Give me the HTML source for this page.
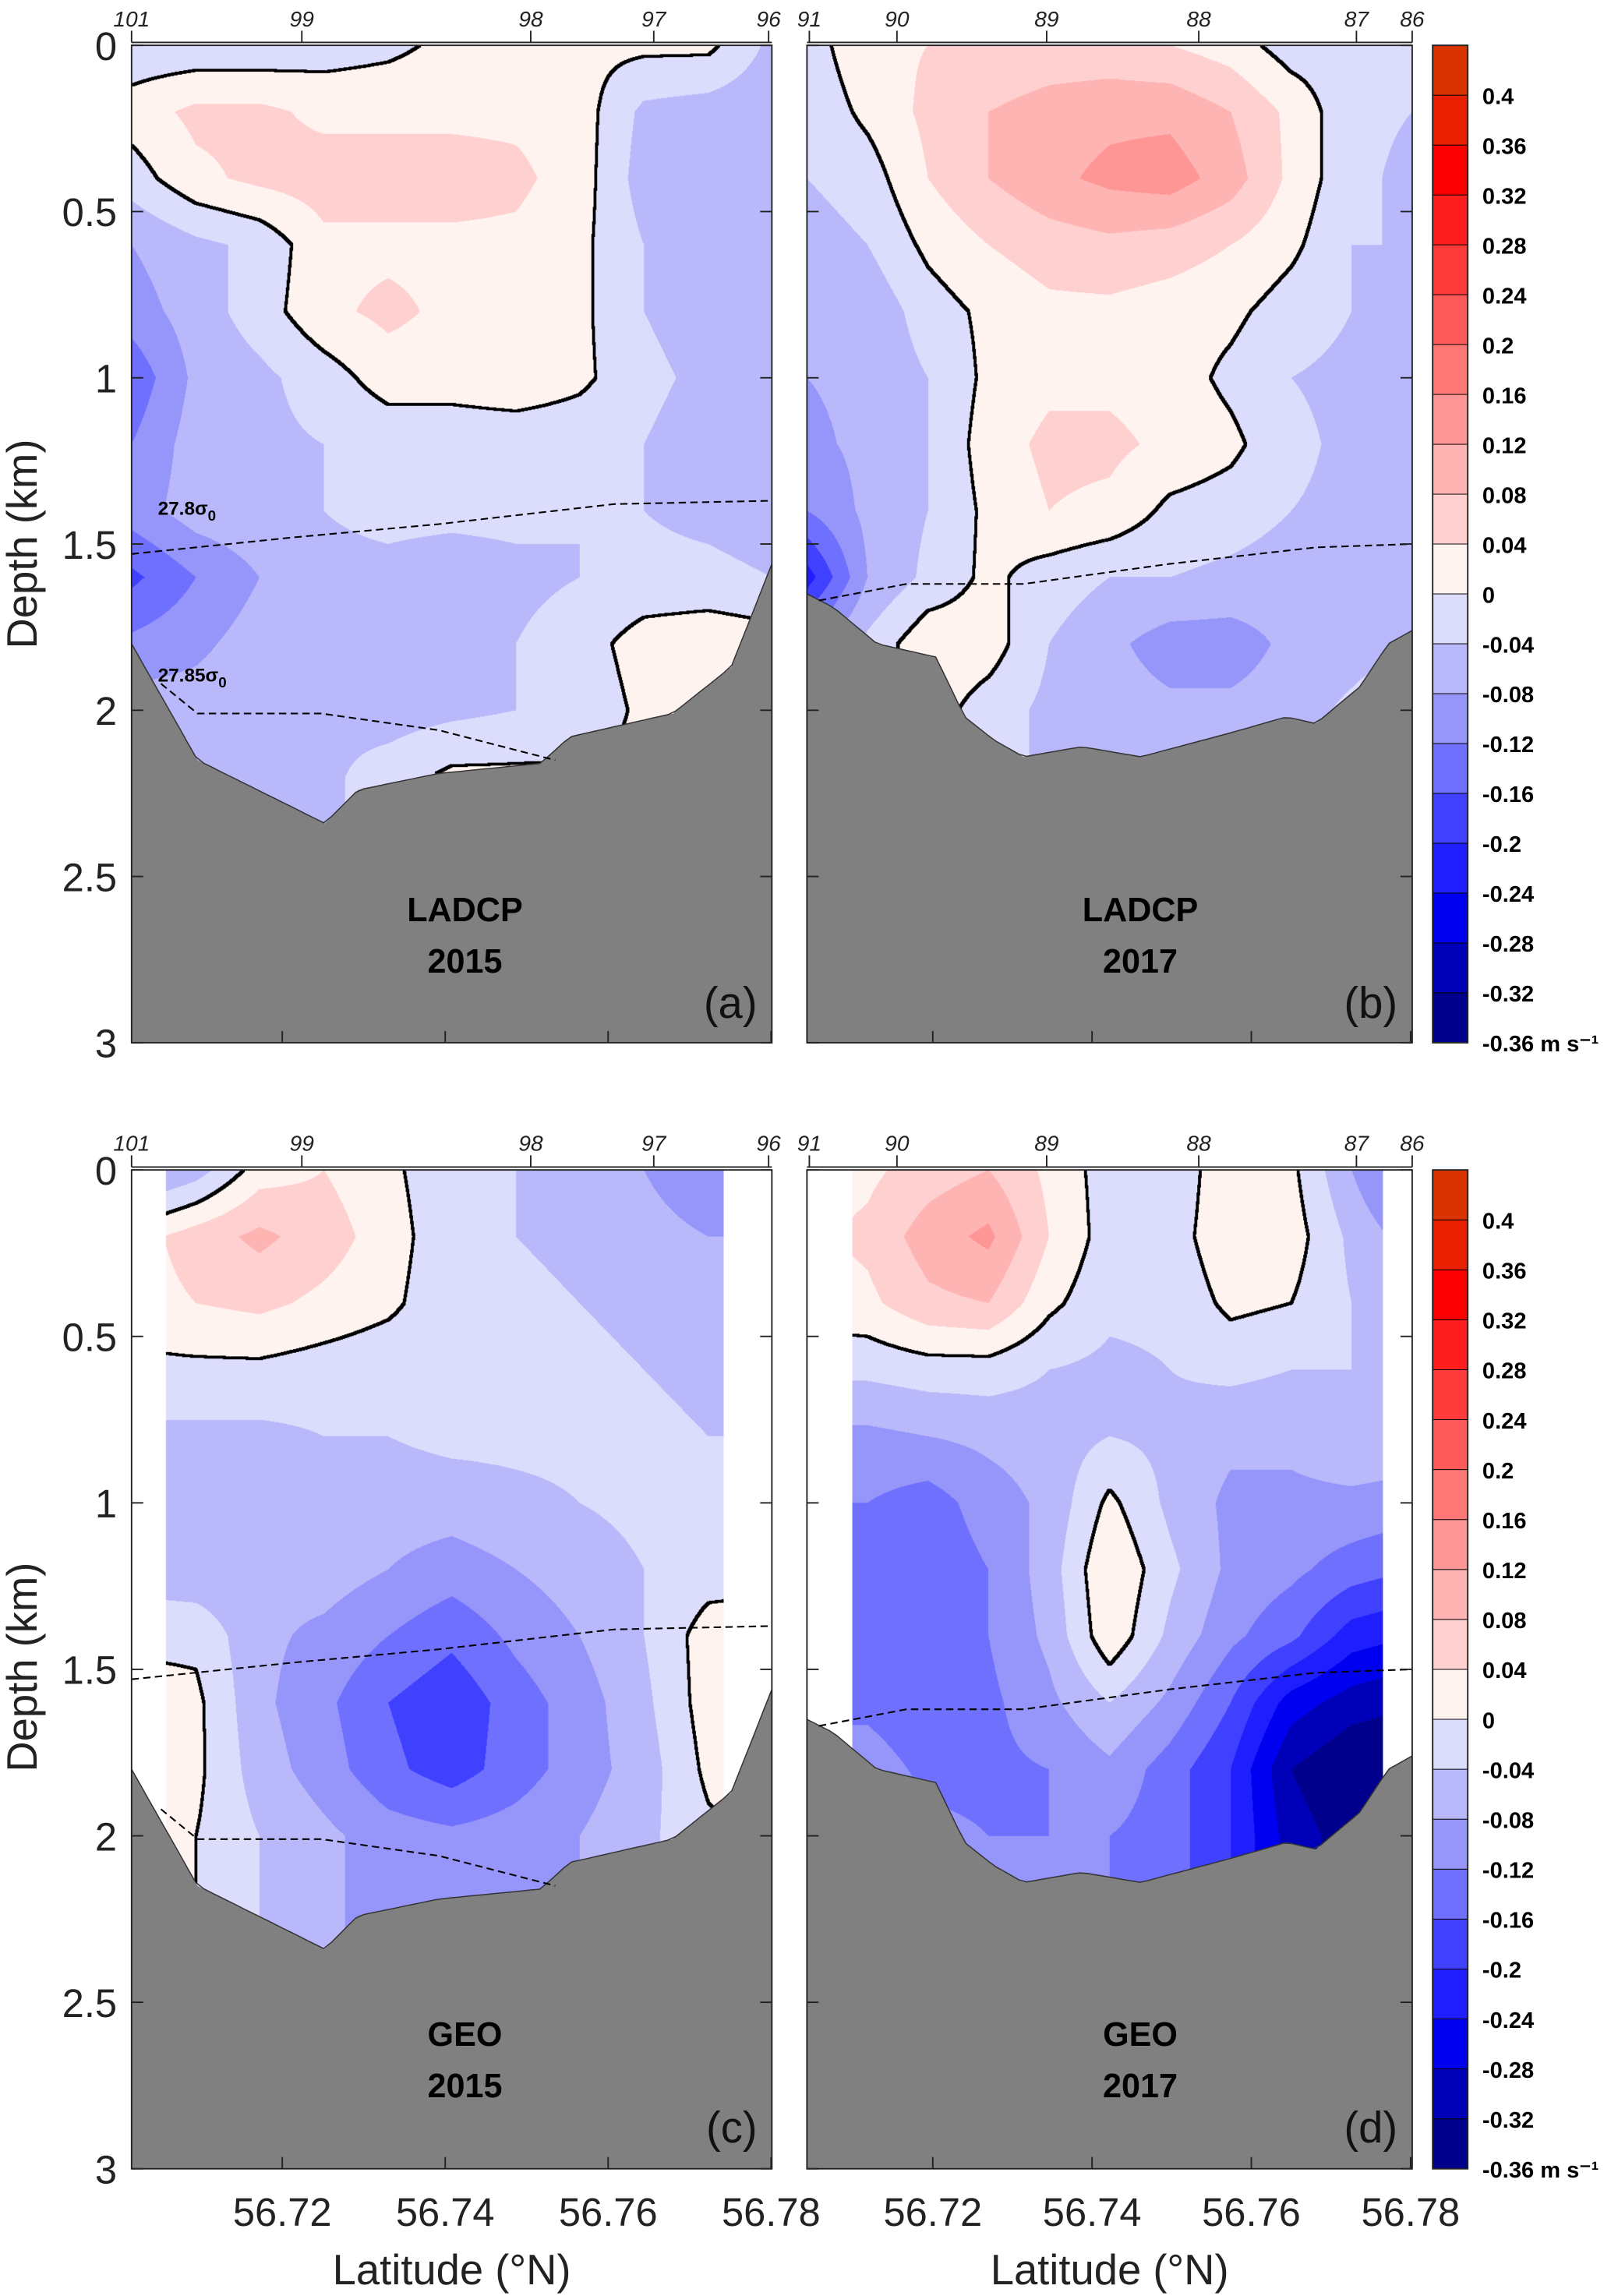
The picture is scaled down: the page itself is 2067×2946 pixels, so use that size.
<!DOCTYPE html>
<html><head><meta charset="utf-8">
<style>
html,body{margin:0;padding:0;background:#fff;width:2067px;height:2946px;overflow:hidden;}
#wrap{position:absolute;left:0;top:0;width:1102px;height:1570px;transform-origin:0 0;transform:scale(1.87568,1.87643);}
canvas{position:absolute;}
svg{position:absolute;left:0;top:0;}
text{font-family:"Liberation Sans",Arial,sans-serif;}
</style></head>
<body>
<div id="wrap">
<canvas id="ca"></canvas>
<canvas id="cb"></canvas>
<canvas id="cc"></canvas>
<canvas id="cd"></canvas>
<svg id="ov" width="1102" height="1570" viewBox="0 0 1102 1570"></svg>
</div>
<script>
// ---- data ----
const depthRows = [0,0.2,0.4,0.6,0.8,1.0,1.2,1.4,1.6,1.8,2.0,2.2,2.4];
const latColsA = [56.7015,56.7094,56.7172,56.7251,56.7330,56.7408,56.7487,56.7565,56.7644,56.7723,56.7801];
const latColsB = [56.7042,56.7118,56.7194,56.7270,56.7346,56.7422,56.7498,56.7574,56.7650,56.7726,56.7802];
const velA = [
[-0.03,-0.03,-0.03,-0.02,-0.01,0.01,0.01,0.01,0.01,0.01,-0.05],
[0.02,0.05,0.05,0.03,0.03,0.03,0.03,0.02,-0.05,-0.06,-0.07],
[-0.02,0.03,0.05,0.06,0.06,0.06,0.05,0.02,-0.06,-0.07,-0.08],
[-0.08,-0.05,-0.03,0.03,0.03,0.03,0.03,0.01,-0.04,-0.07,-0.07],
[-0.10,-0.06,-0.02,0.03,0.05,0.03,0.02,0.01,-0.04,-0.06,-0.07],
[-0.15,-0.07,-0.05,-0.02,0.02,0.02,0.03,0.01,-0.03,-0.05,-0.07],
[-0.12,-0.06,-0.05,-0.04,-0.03,-0.03,-0.03,-0.03,-0.04,-0.06,-0.07],
[-0.10,-0.06,-0.05,-0.04,-0.03,-0.03,-0.03,-0.04,-0.04,-0.05,-0.06],
[-0.17,-0.12,-0.08,-0.05,-0.05,-0.06,-0.05,-0.04,-0.03,-0.03,-0.04],
[-0.11,-0.09,-0.06,-0.06,-0.05,-0.05,-0.04,-0.02,0.02,0.03,0.02],
[-0.06,-0.06,-0.05,-0.05,-0.06,-0.05,-0.04,-0.03,0.01,0.02,0.02],
[-0.04,-0.04,-0.05,-0.05,-0.02,0.01,0.01,0.01,0.01,0.01,0.01],
[-0.04,-0.04,-0.05,-0.05,-0.02,0.01,0.01,0.01,0.01,0.01,0.01]];
const velB = [
[-0.02,0.03,0.04,0.04,0.05,0.05,0.04,0.02,-0.02,-0.02,-0.03],
[-0.03,0.01,0.05,0.08,0.10,0.11,0.11,0.08,0.03,-0.03,-0.04],
[-0.04,-0.02,0.04,0.08,0.11,0.13,0.14,0.10,0.03,-0.03,-0.05],
[-0.06,-0.04,0.01,0.04,0.06,0.07,0.06,0.04,0.01,-0.04,-0.04],
[-0.08,-0.07,-0.02,0.01,0.03,0.03,0.02,0.01,-0.02,-0.04,-0.05],
[-0.08,-0.07,-0.04,0.01,0.03,0.03,0.02,-0.01,-0.04,-0.05,-0.06],
[-0.09,-0.07,-0.04,0.02,0.05,0.05,0.03,0.01,-0.03,-0.05,-0.05],
[-0.12,-0.07,-0.04,0.01,0.04,0.03,-0.01,-0.02,-0.04,-0.05,-0.05],
[-0.22,-0.08,-0.03,0.01,-0.02,-0.04,-0.04,-0.05,-0.06,-0.06,-0.06],
[-0.10,-0.03,0.03,0.02,-0.04,-0.07,-0.10,-0.10,-0.07,-0.06,-0.05],
[-0.05,-0.03,0.02,-0.02,-0.05,-0.06,-0.07,-0.07,-0.06,-0.03,0.01],
[-0.05,-0.03,0.02,-0.02,-0.05,-0.06,-0.07,-0.07,-0.06,-0.03,0.01],
[-0.05,-0.03,0.02,-0.02,-0.05,-0.06,-0.07,-0.07,-0.06,-0.03,0.01]];
const velC = [
[-0.10,-0.06,0.02,0.04,0.01,-0.03,-0.04,-0.05,-0.08,-0.10,-0.10],
[0.02,0.06,0.09,0.06,0.02,-0.03,-0.04,-0.05,-0.07,-0.08,-0.08],
[0.02,0.04,0.05,0.03,0.01,-0.03,-0.03,-0.04,-0.05,-0.06,-0.06],
[-0.01,-0.01,-0.01,-0.02,-0.03,-0.03,-0.03,-0.03,-0.04,-0.05,-0.05],
[-0.05,-0.05,-0.05,-0.04,-0.04,-0.03,-0.03,-0.03,-0.03,-0.04,-0.04],
[-0.07,-0.07,-0.06,-0.05,-0.06,-0.06,-0.05,-0.04,-0.03,-0.03,-0.03],
[-0.06,-0.07,-0.07,-0.06,-0.08,-0.10,-0.08,-0.06,-0.04,-0.02,-0.02],
[-0.01,-0.01,-0.07,-0.09,-0.12,-0.15,-0.11,-0.08,-0.04,0.02,0.03],
[0.02,0.01,-0.07,-0.11,-0.16,-0.19,-0.14,-0.10,-0.05,0.02,0.04],
[0.03,0.01,-0.06,-0.10,-0.15,-0.18,-0.14,-0.10,-0.06,0.01,0.03],
[0.03,0.00,-0.04,-0.07,-0.10,-0.11,-0.10,-0.08,-0.05,-0.01,0.01],
[0.03,0.00,-0.04,-0.07,-0.10,-0.11,-0.10,-0.08,-0.05,-0.01,0.01],
[0.03,0.00,-0.04,-0.07,-0.10,-0.11,-0.10,-0.08,-0.05,-0.01,0.01]];
const velD = [
[0.02,0.03,0.06,0.08,0.03,-0.02,-0.03,0.03,0.01,-0.08,-0.16],
[0.03,0.05,0.10,0.13,0.04,-0.02,-0.02,0.03,0.02,-0.05,-0.10],
[0.02,0.03,0.07,0.08,0.01,-0.03,-0.03,0.01,0.00,-0.04,-0.06],
[-0.03,-0.03,-0.02,-0.02,-0.04,-0.05,-0.04,-0.03,-0.04,-0.04,-0.04],
[-0.09,-0.09,-0.08,-0.07,-0.06,-0.04,-0.05,-0.07,-0.07,-0.05,-0.05],
[-0.12,-0.12,-0.14,-0.10,-0.07,0.01,-0.05,-0.09,-0.09,-0.09,-0.10],
[-0.13,-0.13,-0.15,-0.12,-0.06,0.04,-0.03,-0.09,-0.11,-0.14,-0.16],
[-0.14,-0.14,-0.15,-0.12,-0.07,0.03,-0.05,-0.11,-0.15,-0.22,-0.24],
[-0.13,-0.13,-0.15,-0.13,-0.09,-0.04,-0.09,-0.16,-0.26,-0.30,-0.32],
[-0.10,-0.10,-0.13,-0.13,-0.12,-0.09,-0.14,-0.20,-0.32,-0.36,-0.36],
[-0.08,-0.08,-0.11,-0.12,-0.12,-0.12,-0.14,-0.20,-0.30,-0.34,-0.34],
[-0.08,-0.08,-0.11,-0.12,-0.12,-0.12,-0.14,-0.20,-0.30,-0.34,-0.34],
[-0.08,-0.08,-0.11,-0.12,-0.12,-0.12,-0.14,-0.20,-0.30,-0.34,-0.34]];
const bathyLatA = [56.7015,56.7096,56.7252,56.7293,56.7392,56.7517,56.7553,56.7679,56.7751,56.7801];
const bathyDepA = [1.80,2.15,2.34,2.24,2.19,2.16,2.08,2.01,1.87,1.56];
const bathyLatB = [56.7042,56.7075,56.7130,56.7204,56.7240,56.7277,56.7314,56.7387,56.7461,56.7571,56.7644,56.7681,56.7736,56.7772,56.7802];
const bathyDepB = [1.65,1.69,1.80,1.84,2.02,2.09,2.14,2.11,2.14,2.07,2.02,2.04,1.93,1.80,1.76];
const iso278LatA = [56.7015,56.7213,56.7392,56.7607,56.7801];
const iso278DepA = [1.53,1.48,1.44,1.38,1.37];
const iso2785LatA = [56.7051,56.7096,56.7248,56.7392,56.7535];
const iso2785DepA = [1.92,2.01,2.01,2.06,2.15];
const isoLatB = [56.7057,56.7167,56.7314,56.7497,56.7681,56.7802];
const isoDepB = [1.67,1.62,1.62,1.56,1.51,1.50];
const levels = [-0.36,-0.32,-0.28,-0.24,-0.2,-0.16,-0.12,-0.08,-0.04,0,0.04,0.08,0.12,0.16,0.2,0.24,0.28,0.32,0.36,0.4,0.44];
const levelLabels = ["-0.36 m s⁻¹","-0.32","-0.28","-0.24","-0.2","-0.16","-0.12","-0.08","-0.04","0","0.04","0.08","0.12","0.16","0.2","0.24","0.28","0.32","0.36","0.4"];
const colors = ["#00008c","#0000b8","#0000f0","#1e1eff","#4040ff","#7070ff","#9696fa","#b8b8fa","#dcdcfc","#fff3f0","#ffd0d0","#ffb4b4","#ff9696","#ff7878","#ff5a5a","#ff3a3a","#ff1e1e","#fa0000","#e82000","#d93300"];
const depthTicks = [0,0.5,1,1.5,2,2.5,3];
const latTicks = [56.72,56.74,56.76,56.78];
const stationsA = ["101","99","98","97","96"];
const stationLatA = [56.7015,56.7224,56.7505,56.7656,56.7797];
const stationsB = ["91","90","89","88","87","86"];
const stationLatB = [56.7045,56.7155,56.7343,56.7534,56.7732,56.7802];

// ---- panels ----
const panels = [
 {id:'ca',name:'a',x:90,y:31,w:438,h:682,lat:[56.7015,56.7801],cols:latColsA,v:velA,bl:bathyLatA,bd:bathyDepA,mask:null,iso:[[iso278LatA,iso278DepA],[iso2785LatA,iso2785DepA]],t1:'LADCP',t2:'2015',st:stationsA,sl:stationLatA},
 {id:'cb',name:'b',x:552,y:31,w:414,h:682,lat:[56.7042,56.7802],cols:latColsB,v:velB,bl:bathyLatB,bd:bathyDepB,mask:null,iso:[[isoLatB,isoDepB]],t1:'LADCP',t2:'2017',st:stationsB,sl:stationLatB},
 {id:'cc',name:'c',x:90,y:800,w:438,h:683,lat:[56.7015,56.7801],cols:latColsA,v:velC,bl:bathyLatA,bd:bathyDepA,mask:[56.7057,56.7742],iso:[[iso278LatA,iso278DepA],[iso2785LatA,iso2785DepA]],t1:'GEO',t2:'2015',st:stationsA,sl:stationLatA},
 {id:'cd',name:'d',x:552,y:800,w:414,h:683,lat:[56.7042,56.7802],cols:latColsB,v:velD,bl:bathyLatB,bd:bathyDepB,mask:[56.7099,56.7765],iso:[[isoLatB,isoDepB]],t1:'GEO',t2:'2017',st:stationsB,sl:stationLatB}
];
function interp1(xs,ys,x){
 if(x<=xs[0])return ys[0]; if(x>=xs[xs.length-1])return ys[ys.length-1];
 for(let i=0;i<xs.length-1;i++){if(x<=xs[i+1]){const t=(x-xs[i])/(xs[i+1]-xs[i]);return ys[i]+t*(ys[i+1]-ys[i]);}}
}
function field(p,lat,d){
 const c=p.cols; let i=0; while(i<c.length-2&&lat>c[i+1])i++;
 let tx=(lat-c[i])/(c[i+1]-c[i]); tx=Math.max(0,Math.min(1,tx));
 let j=Math.min(Math.floor(d/0.2),depthRows.length-2); let ty=(d-depthRows[j])/0.2; ty=Math.max(0,Math.min(1,ty));
 const v=p.v; return (v[j][i]*(1-tx)+v[j][i+1]*tx)*(1-ty)+(v[j+1][i]*(1-tx)+v[j+1][i+1]*tx)*ty;
}
function hex(c){return [parseInt(c.substr(1,2),16),parseInt(c.substr(3,2),16),parseInt(c.substr(5,2),16)];}
const rgb=colors.map(hex);
const S=2;
panels.forEach(p=>{
 const cv=document.getElementById(p.id);
 cv.style.left=p.x+'px';cv.style.top=p.y+'px';cv.style.width=p.w+'px';cv.style.height=p.h+'px';
 const W=p.w*S,H=p.h*S; cv.width=W;cv.height=H;
 const ctx=cv.getContext('2d'); const img=ctx.createImageData(W,H); const dt=img.data;
 const kind=new Int8Array(W*H);
 const vals=new Float32Array(W*H);
 for(let i=0;i<W;i++){
  const lat=p.lat[0]+(i+0.5)/W*(p.lat[1]-p.lat[0]);
  const bd=interp1(p.bl,p.bd,lat);
  const inMask=!p.mask||(lat>=p.mask[0]&&lat<=p.mask[1]);
  for(let j=0;j<H;j++){
   const d=(j+0.5)/H*3; const k=j*W+i;
   if(d>bd){kind[k]=2;continue;}
   if(!inMask){kind[k]=0;continue;}
   const v=field(p,lat,d); vals[k]=v; kind[k]=v>=0?1:-1;
  }
 }
 for(let k=0;k<W*H;k++){
  let c;
  if(kind[k]===2)c=[128,128,128];else if(kind[k]===0)c=[255,255,255];
  else{let b=Math.floor((vals[k]+0.36)/0.04);b=Math.max(0,Math.min(19,b));c=rgb[b];}
  dt[k*4]=c[0];dt[k*4+1]=c[1];dt[k*4+2]=c[2];dt[k*4+3]=255;
 }
 const r=2;
 for(let j=0;j<H;j++)for(let i=0;i<W;i++){
  const k=j*W+i; if(kind[k]!==1&&kind[k]!==-1)continue;
  const opp=-kind[k];
  let edge=false;
  for(let dy=-r;dy<=r&&!edge;dy++)for(let dx=-r;dx<=r;dx++){
   const ii=i+dx,jj=j+dy; if(ii<0||jj<0||ii>=W||jj>=H)continue;
   if(kind[jj*W+ii]===opp){edge=true;break;}
  }
  if(edge){dt[k*4]=0;dt[k*4+1]=0;dt[k*4+2]=0;}
 }
 ctx.putImageData(img,0,0);
});

// ---- overlay ----
const NS='http://www.w3.org/2000/svg';
const ov=document.getElementById('ov');
function el(tag,attrs,parent){const e=document.createElementNS(NS,tag);for(const a in attrs)e.setAttribute(a,attrs[a]);(parent||ov).appendChild(e);return e;}
function txt(s,attrs){const e=el('text',attrs);e.textContent=s;return e;}
panels.forEach(p=>{
 const xs=lat=>p.x+(lat-p.lat[0])/(p.lat[1]-p.lat[0])*p.w;
 const ys=d=>p.y+d/3*p.h;
 const g=el('g',{});
 
 
 let pts=''; const n=80;
 for(let k=0;k<=n;k++){const lat=p.lat[0]+k/n*(p.lat[1]-p.lat[0]);pts+=xs(lat).toFixed(1)+','+ys(interp1(p.bl,p.bd,lat)).toFixed(1)+' ';}
 const bo=el('polyline',{points:pts,fill:'none',stroke:'#333',"stroke-width":0.8},g);
 
 
 p.iso.forEach((iso,ix)=>{
  const pp=iso[0].map((la,k)=>xs(la).toFixed(1)+','+ys(iso[1][k]).toFixed(1)).join(' ');
  const l=el('polyline',{points:pp,fill:'none',stroke:'#000',"stroke-width":1.1,"stroke-dasharray":'5,3'},g);
  
  
 });
 el('rect',{x:p.x,y:p.y,width:p.w,height:p.h,fill:'none',stroke:'#222',"stroke-width":1},g);
 depthTicks.forEach(d=>{
  el('line',{x1:p.x,x2:p.x+8,y1:ys(d),y2:ys(d),stroke:'#222'},g);
  el('line',{x1:p.x+p.w-8,x2:p.x+p.w,y1:ys(d),y2:ys(d),stroke:'#222'},g);
  if(p.name==='a'||p.name==='c'){
   const t=txt(String(d),{x:80,y:ys(d)+10,"font-size":27,"text-anchor":'end',fill:'#222'});
   
   
  }
 });
 latTicks.forEach(la=>{
  el('line',{x1:xs(la),x2:xs(la),y1:p.y+p.h,y2:p.y+p.h-8,stroke:'#222'},g);
  if(p.name==='c'||p.name==='d'){
   const t=txt(la.toFixed(2),{x:xs(la),y:1522,"font-size":27,"text-anchor":'middle',fill:'#222'});
   
   
  }
 });
 p.st.forEach((s,k)=>{
  const x=xs(p.sl[k]);
  el('line',{x1:x,x2:x,y1:p.y-2,y2:p.y-10,stroke:'#222'},g);
  const t=txt(s,{x:x,y:p.y-13,"font-size":15,"font-style":'italic',"text-anchor":'middle',fill:'#222'});
  
  
 });
 el('line',{x1:p.x,x2:p.x+p.w,y1:p.y-2,y2:p.y-2,stroke:'#222'},g);
 const cx=p.x+228;
 const t1=txt(p.t1,{x:cx,y:p.y+599,"font-size":23,"font-weight":'bold',"text-anchor":'middle',fill:'#000'});
 
 
 const t2=txt(p.t2,{x:cx,y:p.y+634,"font-size":23,"font-weight":'bold',"text-anchor":'middle',fill:'#000'});
 
 
 const pl=txt('('+p.name+')',{x:p.x+p.w-10,y:p.y+665,"font-size":30,"text-anchor":'end',fill:'#111'});
 
 
});
[[108,352,'27.8'],[108,466,'27.85']].forEach(a=>{
 const t=el('text',{x:a[0],y:a[1],"font-size":13,"font-weight":'bold',fill:'#000'});
 t.innerHTML=a[2]+'σ<tspan font-size="10" dy="4">0</tspan>';
 
 
});
[372,1140].forEach(cy=>{
 const t=txt('Depth (km)',{x:0,y:0,"font-size":29,"text-anchor":'middle',fill:'#222',transform:'translate(25,'+cy+') rotate(-90)'});
 
 
});
[309,759].forEach(cx=>{
 const t=txt('Latitude (°N)',{x:cx,y:1562,"font-size":29,"text-anchor":'middle',fill:'#222'});
 
 
});
[[31,713],[800,1483]].forEach(cb=>{
 const g=el('g',{});
 
 
 const cy=v=>cb[0]+(0.44-v)/0.80*(cb[1]-cb[0]);
 colors.forEach((c,i)=>{
  el('rect',{x:980,y:cy(levels[i+1]),width:24,height:cy(levels[i])-cy(levels[i+1]),fill:c,stroke:'#000',"stroke-width":0.5},g);
 });
 el('rect',{x:980,y:cb[0],width:24,height:cb[1]-cb[0],fill:'none',stroke:'#222',"stroke-width":1},g);
 levelLabels.forEach((s,i)=>{
  const t=txt(s,{x:1014,y:cy(levels[i])+6,"font-size":15.5,"font-weight":'bold',fill:'#000'});
  
  
 });
});
</script>
</body></html>
